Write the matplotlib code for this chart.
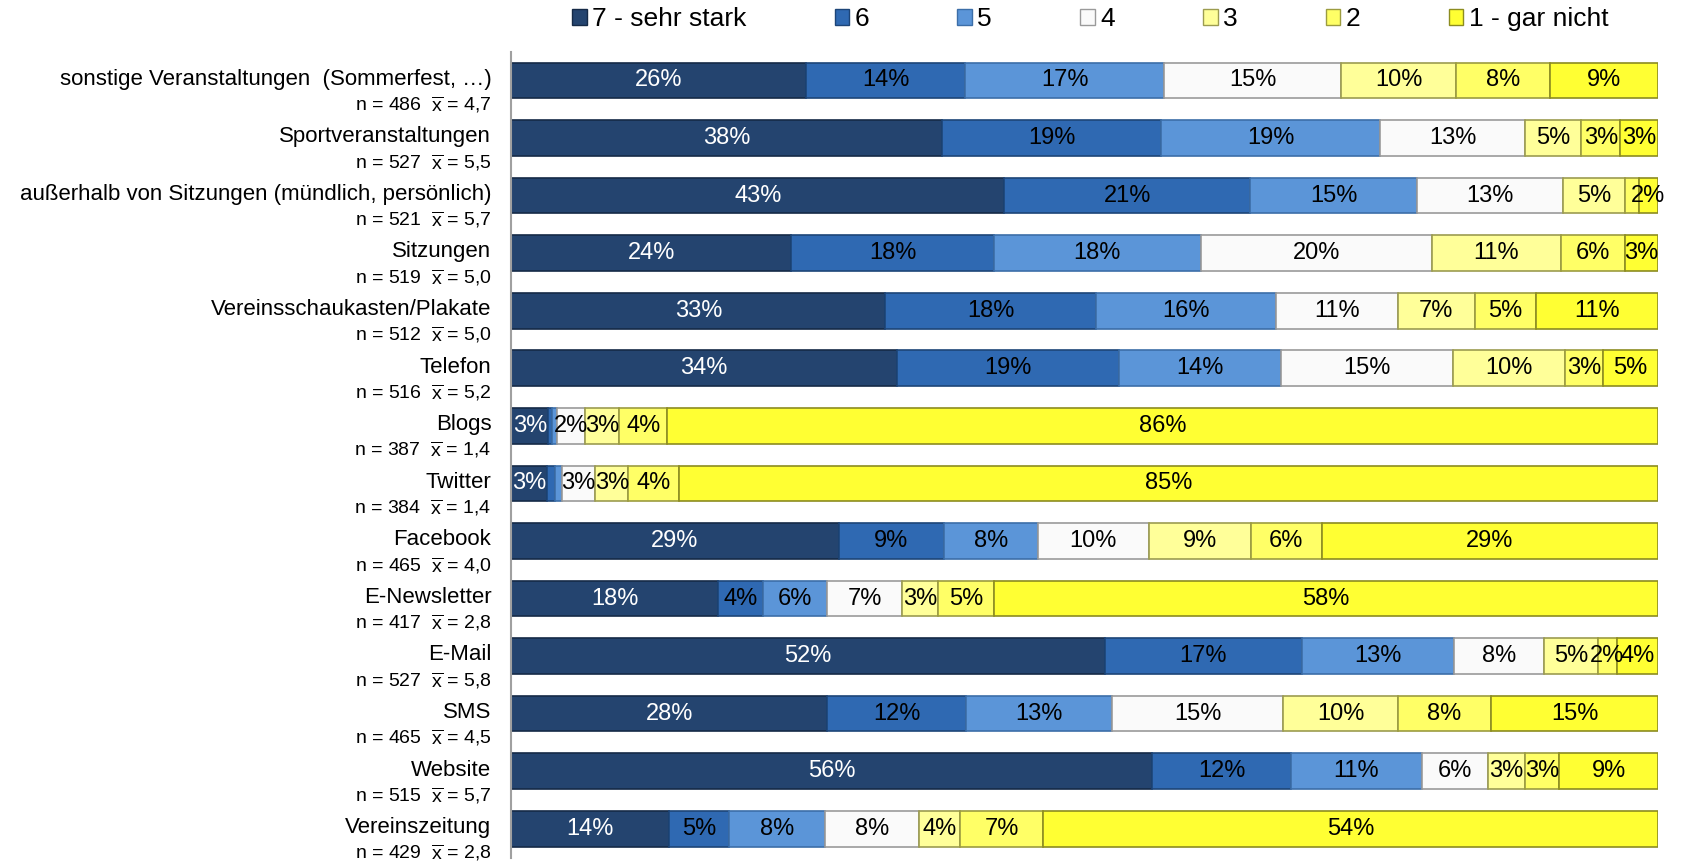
import numpy as np
import matplotlib
matplotlib.use("Agg")
import matplotlib.pyplot as plt
from matplotlib.patches import Patch
import matplotlib.transforms as mtransforms

plt.rcParams['font.family'] = ['Liberation Sans', 'DejaVu Sans']
plt.rcParams['mathtext.fontset'] = 'custom'
plt.rcParams['mathtext.rm'] = 'Liberation Sans'

# Kategorien (von oben nach unten)
kategorien = [
    "sonstige Veranstaltungen  (Sommerfest, \u2026)",
    "Sportveranstaltungen",
    "au\u00dferhalb von Sitzungen (m\u00fcndlich, pers\u00f6nlich)",
    "Sitzungen",
    "Vereinsschaukasten/Plakate",
    "Telefon",
    "Blogs",
    "Twitter",
    "Facebook",
    "E-Newsletter",
    "E-Mail",
    "SMS",
    "Website",
    "Vereinszeitung",
]
n_werte = [486, 527, 521, 519, 512, 516, 387, 384, 465, 417, 527, 465, 515, 429]
mittelwerte = ["4,7", "5,5", "5,7", "5,0", "5,0", "5,2", "1,4", "1,4", "4,0", "2,8", "5,8", "4,5", "5,7", "2,8"]

legende = ["7 - sehr stark", "6", "5", "4", "3", "2", "1 - gar nicht"]

# Anteile in % je Stufe (7 ... 1)
stufe_7 = [25.7, 37.6, 43.0, 24.4, 32.6, 33.6, 3.2, 3.1, 28.6, 18.0, 51.6, 27.6, 55.9, 13.7]
stufe_6 = [13.8, 19.2, 21.4, 17.7, 18.4, 19.4, 0.3, 0.7, 9.2, 3.9, 17.1, 12.1, 12.1, 5.3]
stufe_5 = [17.4, 19.1, 14.6, 18.0, 15.7, 14.1, 0.5, 0.6, 8.2, 5.6, 13.3, 12.8, 11.4, 8.3]
stufe_4 = [15.4, 12.7, 12.7, 20.2, 10.6, 15.0, 2.4, 2.9, 9.7, 6.6, 7.8, 14.9, 5.8, 8.2]
stufe_3 = [10.0, 4.9, 5.4, 11.2, 6.7, 9.8, 3.0, 2.9, 8.9, 3.1, 4.7, 10.1, 3.2, 3.6]
stufe_2 = [8.2, 3.4, 1.2, 5.6, 5.4, 3.3, 4.2, 4.4, 6.2, 4.9, 1.6, 8.1, 3.0, 7.2]
stufe_1 = [9.4, 3.3, 1.7, 2.9, 10.6, 4.8, 86.4, 85.4, 29.4, 57.9, 3.6, 14.6, 8.6, 53.6]

farben = ["#24446f", "#2f69b2", "#5b95d8", "#fafafa", "#ffff99", "#ffff66", "#ffff33"]
kanten = ["#152a47", "#1d4578", "#3c6ea8", "#9a9a9a", "#9c9c50", "#9c9c40", "#8c8c20"]
textfarben = ["white", "black", "black", "black", "black", "black", "black"]

daten = np.array([stufe_7, stufe_6, stufe_5, stufe_4, stufe_3, stufe_2, stufe_1])
daten = daten / daten.sum(axis=0) * 100

fig = plt.figure(figsize=(16.85, 8.61), dpi=100)
ax = fig.add_axes([0.3035, 0.004, 0.6805, 0.936])

y = np.arange(len(kategorien))
links = np.zeros(len(kategorien))
for i in range(7):
    ax.barh(y, daten[i], left=links, height=0.62, color=farben[i],
            edgecolor=kanten[i], linewidth=1.2)
    for j in range(len(kategorien)):
        wert = daten[i][j]
        if round(wert) >= 2:
            ax.text(links[j] + wert / 2, y[j], f"{round(wert)}%", ha='center',
                    va='center', fontsize=17, color=textfarben[i])
    links += daten[i]

ax.set_xlim(0, 100)
ax.set_ylim(len(kategorien) - 0.5, -0.5)
ax.set_xticks([])
ax.set_yticks([])
for s in ['top', 'right', 'bottom']:
    ax.spines[s].set_visible(False)
ax.spines['left'].set_color('#a0a0a0')
ax.spines['left'].set_linewidth(1.5)

trans = mtransforms.blended_transform_factory(ax.transAxes, ax.transData)
for j, name in enumerate(kategorien):
    ax.text(-0.0175, y[j] - 0.02, name, ha='right', va='center', fontsize=16,
            transform=trans, clip_on=False)
    ax.text(-0.0175, y[j] + 0.42,
            f"n = {n_werte[j]}  " + r"$\overline{\mathrm{x}}$" + f" = {mittelwerte[j]}",
            ha='right', va='center', fontsize=14, transform=trans, clip_on=False)

handles = [Patch(facecolor=farben[i], edgecolor=kanten[i]) for i in range(7)]
fig.legend(handles, legende, loc='center', bbox_to_anchor=(0.647, 0.978), ncol=7,
           frameon=False, fontsize=19, handlelength=0.55, handleheight=0.55,
           handletextpad=0.2, columnspacing=3.35)

fig.savefig("out.png", dpi=100)
